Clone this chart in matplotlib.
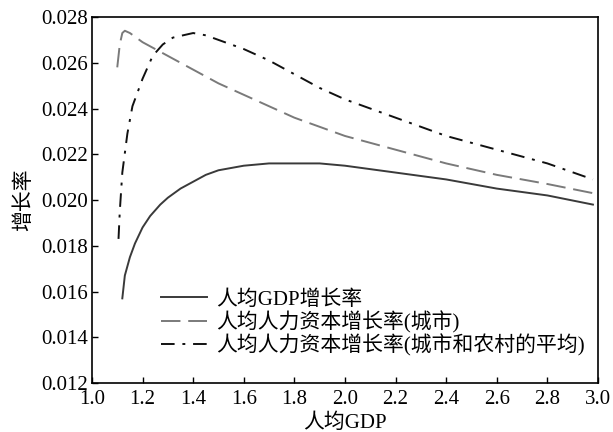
import matplotlib
matplotlib.use('Agg')
import matplotlib.pyplot as plt

plt.rcParams['font.family'] = ['Liberation Serif', 'Noto Sans CJK SC']
plt.rcParams['axes.unicode_minus'] = False

# 人均GDP增长率
gdpX = [1.12, 1.13, 1.15, 1.17, 1.20, 1.23, 1.27, 1.30, 1.35, 1.40, 1.45, 1.50,
        1.60, 1.70, 1.80, 1.90, 2.00, 2.20, 2.40, 2.60, 2.80, 2.98]
gdpY = [0.0157, 0.0167, 0.0175, 0.0181, 0.0188, 0.0193, 0.0198, 0.0201, 0.0205,
        0.0208, 0.0211, 0.0213, 0.0215, 0.0216, 0.0216, 0.0216, 0.0215, 0.0212,
        0.0209, 0.0205, 0.0202, 0.0198]

# 人均人力资本增长率(城市)
cityX = [1.10, 1.11, 1.12, 1.13, 1.15, 1.20, 1.25, 1.30, 1.40, 1.50, 1.60, 1.70,
         1.80, 1.90, 2.00, 2.20, 2.40, 2.60, 2.80, 2.98]
cityY = [0.0258, 0.0268, 0.0273, 0.0274, 0.0273, 0.0269, 0.0266, 0.0263, 0.0257,
         0.0251, 0.0246, 0.0241, 0.0236, 0.0232, 0.0228, 0.0222, 0.0216, 0.0211,
         0.0207, 0.0203]

# 人均人力资本增长率(城市和农村的平均)
avgX = [1.105, 1.11, 1.12, 1.14, 1.16, 1.20, 1.24, 1.28, 1.32, 1.36, 1.40, 1.45,
        1.50, 1.60, 1.70, 1.80, 1.90, 2.00, 2.20, 2.40, 2.60, 2.80, 2.98]
avgY = [0.0183, 0.0195, 0.0212, 0.0229, 0.0241, 0.0253, 0.0263, 0.0268, 0.0271,
        0.0272, 0.0273, 0.0272, 0.0270, 0.0266, 0.0261, 0.0255, 0.0249, 0.0244,
        0.0236, 0.0228, 0.0222, 0.0216, 0.0209]

labels = ['人均GDP增长率', '人均人力资本增长率(城市)', '人均人力资本增长率(城市和农村的平均)']
xTicks = [1.0, 1.2, 1.4, 1.6, 1.8, 2.0, 2.2, 2.4, 2.6, 2.8, 3.0]
yTicks = [0.012, 0.014, 0.016, 0.018, 0.020, 0.022, 0.024, 0.026, 0.028]

fig = plt.figure(figsize=(6.13, 4.32), dpi=100)
ax = fig.add_axes([0.150, 0.1134, 0.8255, 0.8472])

ax.plot(gdpX, gdpY, '-', color='#3a3a3a', linewidth=1.4, label=labels[0])
ax.plot(cityX, cityY, color='#7a7a7a', linewidth=1.4, dashes=(10, 4), label=labels[1])
ax.plot(avgX, avgY, color='#111111', linewidth=1.4, dashes=(7, 4, 1.5, 4), label=labels[2])

ax.set_xlim(1.0, 3.0)
ax.set_ylim(0.012, 0.028)
ax.set_xticks(xTicks)
ax.set_xticklabels(['%.1f' % t for t in xTicks])
ax.set_yticks(yTicks)
ax.set_yticklabels(['%.3f' % t for t in yTicks])
ax.tick_params(axis='both', direction='in', length=4, width=1, labelsize=15,
               top=False, right=False)
ax.tick_params(axis='x', pad=5)
ax.tick_params(axis='y', pad=3)
for sp in ax.spines.values():
    sp.set_linewidth(1.2)

ax.set_xlabel('人均GDP', fontsize=15, labelpad=3)
ax.set_ylabel('增长率', fontsize=15, labelpad=5)

leg = ax.legend(loc='lower left', bbox_to_anchor=(0.12, 0.05), frameon=False,
                fontsize=15, handlelength=2.2, handletextpad=0.45,
                labelspacing=0.05, borderaxespad=0)

fig.savefig('out.png', dpi=100)
plt.close(fig)
